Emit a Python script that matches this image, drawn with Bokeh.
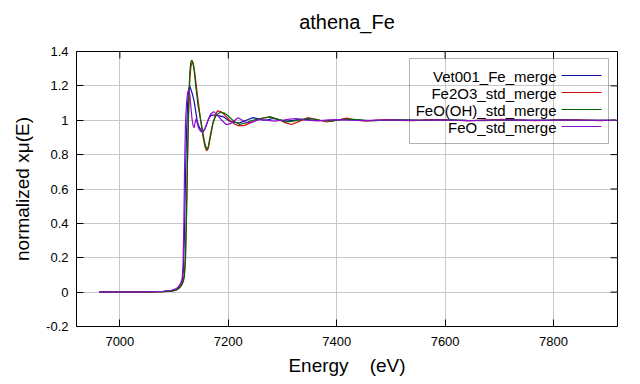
from bokeh.plotting import figure
from bokeh.models import Range1d, FixedTicker, BoxAnnotation, Label, LinearAxis
from bokeh.embed import file_html
from bokeh.resources import INLINE

# ---------------- data ----------------
series_names = ["Vet001_Fe_merge", "Fe2O3_std_merge", "FeO(OH)_std_merge", "FeO_std_merge"]
series_colors = ["#1010a8", "#d01010", "#006400", "#8a10d0"]

E_vet = [6962, 6980, 7000, 7020, 7040, 7060, 7080, 7095, 7104, 7109, 7112, 7115, 7117, 7119, 7121,
         7123, 7125, 7127, 7128.5, 7130, 7132, 7134, 7137, 7140, 7143, 7147, 7152, 7156, 7160, 7164,
         7168, 7172, 7176, 7184, 7191, 7198, 7205, 7212, 7221, 7233, 7246, 7256, 7265, 7274, 7283,
         7295, 7308, 7320, 7332, 7346, 7360, 7375, 7390, 7405, 7420, 7435, 7450, 7470, 7490, 7510,
         7535, 7560, 7585, 7610, 7640, 7670, 7700, 7730, 7760, 7790, 7820, 7850, 7880, 7915]
mu_vet = [0.002, 0.001, 0.0, 0.0, 0.001, 0.002, 0.004, 0.008, 0.015, 0.03, 0.045, 0.07, 0.12, 0.32, 0.66,
          0.93, 1.1, 1.18, 1.2, 1.19, 1.17, 1.15, 1.11, 1.05, 0.99, 0.955, 0.935, 0.945, 0.975, 1.01,
          1.028, 1.03, 1.03, 1.025, 1.02, 1.005, 0.99, 0.987, 0.985, 1.0, 1.015, 1.008, 1.0, 1.004, 1.01,
          1.003, 0.995, 0.999, 1.005, 1.004, 1.0, 0.997, 0.998, 1.003, 1.005, 1.002, 1.0, 0.998, 1.0, 1.002,
          1.001, 0.999, 1.003, 1.001, 0.998, 1.0, 1.002, 1.0, 0.999, 1.001, 1.003, 1.0, 0.999, 1.0]

E_fe2o3 = [6962, 6980, 7000, 7020, 7040, 7060, 7080, 7095, 7104, 7110, 7114, 7117, 7119, 7121, 7123,
           7125, 7127, 7129, 7131, 7133, 7134.5, 7136, 7138, 7141, 7145, 7149, 7153, 7157, 7160, 7163,
           7167, 7171, 7175, 7180, 7186, 7192, 7198, 7204, 7212, 7220, 7230, 7245, 7260, 7277, 7295,
           7306, 7317, 7332, 7346, 7362, 7381, 7400, 7418, 7437, 7455, 7475, 7495, 7515, 7540, 7565,
           7590, 7615, 7645, 7675, 7705, 7735, 7765, 7795, 7825, 7855, 7885, 7915]
mu_fe2o3 = [0.001, 0.0, 0.0, 0.001, 0.0, 0.001, 0.003, 0.006, 0.012, 0.025, 0.045, 0.07, 0.11, 0.22, 0.48,
            0.8, 1.06, 1.24, 1.31, 1.335, 1.34, 1.32, 1.28, 1.2, 1.1, 1.0, 0.91, 0.845, 0.822, 0.835,
            0.9, 0.97, 1.02, 1.055, 1.05, 1.035, 1.015, 0.995, 0.977, 0.967, 0.97, 0.99, 1.01, 1.02, 1.0,
            0.985, 0.975, 0.995, 1.015, 1.006, 0.99, 1.0, 1.012, 1.0, 0.995, 1.001, 1.004, 0.999, 0.997, 1.002,
            1.004, 1.0, 0.997, 1.001, 1.005, 1.001, 0.997, 1.0, 1.004, 1.001, 0.998, 1.0]

E_feooh = [6962, 6980, 7000, 7020, 7040, 7060, 7080, 7095, 7104, 7110, 7114, 7117, 7119, 7121, 7123,
           7125, 7127, 7129, 7131, 7133, 7135, 7137, 7140, 7144, 7148, 7152, 7156, 7160, 7163, 7167,
           7172, 7178, 7186, 7194, 7200, 7210, 7221, 7232, 7245, 7260, 7277, 7292, 7307, 7320, 7335,
           7350, 7370, 7390, 7410, 7430, 7460, 7490, 7520, 7550, 7580, 7610, 7640, 7670, 7700, 7730,
           7760, 7790, 7820, 7850, 7880, 7915]
mu_feooh = [0.002, 0.001, 0.001, 0.0, 0.001, 0.002, 0.003, 0.006, 0.012, 0.024, 0.04, 0.06, 0.09, 0.18, 0.45,
            0.82, 1.1, 1.28, 1.34, 1.35, 1.33, 1.29, 1.2, 1.09, 1.02, 0.95, 0.875, 0.83, 0.845, 0.915,
            0.99, 1.03, 1.048, 1.04, 1.025, 0.995, 0.975, 0.985, 1.0, 1.01, 1.02, 1.005, 0.99, 0.995, 1.005,
            1.01, 1.0, 0.995, 1.005, 1.005, 0.998, 1.0, 1.002, 0.999, 1.001, 1.003, 1.0, 0.998, 1.001, 1.002,
            0.999, 1.0, 1.002, 1.0, 0.999, 1.0]

E_feo = [6962, 6980, 7000, 7020, 7040, 7060, 7080, 7095, 7104, 7108, 7112, 7115, 7116.5, 7118, 7119.5,
         7121, 7123, 7125, 7127, 7129, 7131, 7133, 7135, 7137, 7139, 7141, 7143, 7145, 7149, 7153,
         7157, 7162, 7167, 7173, 7180, 7188, 7196, 7204, 7212, 7218, 7226, 7234, 7245, 7258, 7270,
         7285, 7300, 7313, 7326, 7345, 7365, 7385, 7405, 7425, 7450, 7475, 7500, 7530, 7560, 7590,
         7620, 7650, 7680, 7710, 7740, 7770, 7800, 7830, 7860, 7890, 7915]
mu_feo = [0.001, 0.001, 0.0, 0.001, 0.002, 0.003, 0.005, 0.01, 0.02, 0.032, 0.05, 0.08, 0.15, 0.4, 0.75,
          0.98, 1.1, 1.16, 1.178, 1.15, 1.08, 1.01, 0.97, 0.957, 0.99, 1.01, 0.98, 0.955, 0.935, 0.93,
          0.95, 0.995, 1.035, 1.05, 1.03, 1.0, 0.975, 0.98, 1.0, 1.015, 1.0, 0.985, 0.99, 1.005, 1.0,
          0.995, 1.0, 1.007, 1.01, 1.0, 0.996, 1.002, 1.004, 1.0, 0.998, 1.001, 1.002, 0.999, 1.0, 1.002,
          1.0, 0.998, 1.0, 1.002, 1.001, 0.999, 1.0, 1.002, 1.0, 0.999, 1.0]

x_ticks = [7000, 7200, 7400, 7600, 7800]
x_tick_labels = ["7000", "7200", "7400", "7600", "7800"]
y_ticks = [-0.2, 0.0, 0.2, 0.4, 0.6, 0.8, 1.0, 1.2, 1.4]
y_tick_labels = ["-0.2", "0", "0.2", "0.4", "0.6", "0.8", "1", "1.2", "1.4"]

title_text = "athena_Fe"
x_label = "Energy\u00a0\u00a0\u00a0\u00a0(eV)"
y_label = "normalized x\u03bc(E)"

# ---------------- layout ----------------
FONT = "Liberation Sans"
X0, X1 = 6920, 7918
Y0, Y1 = -0.2, 1.4
FW, FH = 541, 275
FL, FT = 76, 51  # frame left/top in window pixels
TICK = 7         # inner tick length, px

def dx(px):
    return X0 + (px - FL) / FW * (X1 - X0)

def dy(py):
    return Y1 - (py - FT) / FH * (Y1 - Y0)

p = figure(frame_width=FW, frame_height=FH, title=None,
           x_range=Range1d(X0, X1), y_range=Range1d(Y0, Y1),
           output_backend="svg", toolbar_location=None,
           min_border_left=FL, min_border_right=12, min_border_top=FT, min_border_bottom=50)
p.background_fill_color = "white"
p.border_fill_color = "white"
p.outline_line_color = "black"
p.outline_line_width = 1
p.outline_line_alpha = 1

bottom_axis = p.below[0]
left_axis = p.left[0]

for ax in (bottom_axis, left_axis):
    ax.axis_line_color = None
    ax.major_tick_in = TICK
    ax.major_tick_out = 0
    ax.major_tick_line_color = "black"
    ax.minor_tick_line_color = None
    ax.major_label_text_font = FONT
    ax.major_label_text_font_size = "13px"
    ax.major_label_text_color = "black"
    ax.axis_label_text_font = FONT
    ax.axis_label_text_font_size = "19px"
    ax.axis_label_text_font_style = "normal"
    ax.axis_label_text_color = "black"

bottom_axis.ticker = FixedTicker(ticks=x_ticks)
bottom_axis.major_label_overrides = dict(zip(x_ticks, x_tick_labels))
bottom_axis.major_label_standoff = 10
bottom_axis.axis_label = x_label
bottom_axis.axis_label_standoff = 6

left_axis.ticker = FixedTicker(ticks=y_ticks)
left_axis.major_label_overrides = dict(zip(y_ticks, y_tick_labels))
left_axis.major_label_standoff = 8
left_axis.axis_label = y_label
left_axis.axis_label_standoff = 10

p.xgrid.ticker = FixedTicker(ticks=x_ticks)
p.ygrid.ticker = FixedTicker(ticks=y_ticks)
p.xgrid.grid_line_color = "#c8c8c8"
p.ygrid.grid_line_color = "#c8c8c8"

# chart title: carried by a tick-less axis above the frame
title_axis = LinearAxis(ticker=FixedTicker(ticks=[]), axis_label=title_text,
                        axis_line_color=None, major_tick_line_color=None,
                        minor_tick_line_color=None, axis_label_standoff=19,
                        major_tick_in=0, major_tick_out=0, major_label_standoff=0,
                        axis_label_text_font=FONT, axis_label_text_font_size="20px",
                        axis_label_text_font_style="normal", axis_label_text_color="black")
p.add_layout(title_axis, "above")

# mirrored inner ticks on the top and right frame edges
tick_dy = TICK / FH * (Y1 - Y0)
tick_dx = TICK / FW * (X1 - X0)
p.segment(x0=x_ticks, x1=x_ticks, y0=[Y1] * len(x_ticks), y1=[Y1 - tick_dy] * len(x_ticks),
          line_color="black", line_width=1)
p.segment(x0=[X1] * len(y_ticks), x1=[X1 - tick_dx] * len(y_ticks), y0=y_ticks, y1=y_ticks,
          line_color="black", line_width=1)

all_E = [E_vet, E_fe2o3, E_feooh, E_feo]
all_mu = [mu_vet, mu_fe2o3, mu_feooh, mu_feo]
for E, mu, c in zip(all_E, all_mu, series_colors):
    p.line(E, mu, line_color=c, line_width=1.2)

# legend (label left, sample line right)
p.add_layout(BoxAnnotation(left=dx(409), right=dx(608), top=dy(58), bottom=dy(143),
                           fill_alpha=0, line_color="black", line_width=1))
rows = [75, 92, 109, 126]
for name, c, r in zip(series_names, series_colors, rows):
    p.add_layout(Label(x=dx(556), y=dy(r + 1), text=name, text_align="right",
                       text_baseline="middle", text_font=FONT, text_font_size="15px",
                       text_color="black"))
    p.segment(x0=[dx(561)], x1=[dx(601)], y0=[dy(r)], y1=[dy(r)], line_color=c, line_width=1.2)

open("out.html", "w").write(file_html(p, INLINE))
